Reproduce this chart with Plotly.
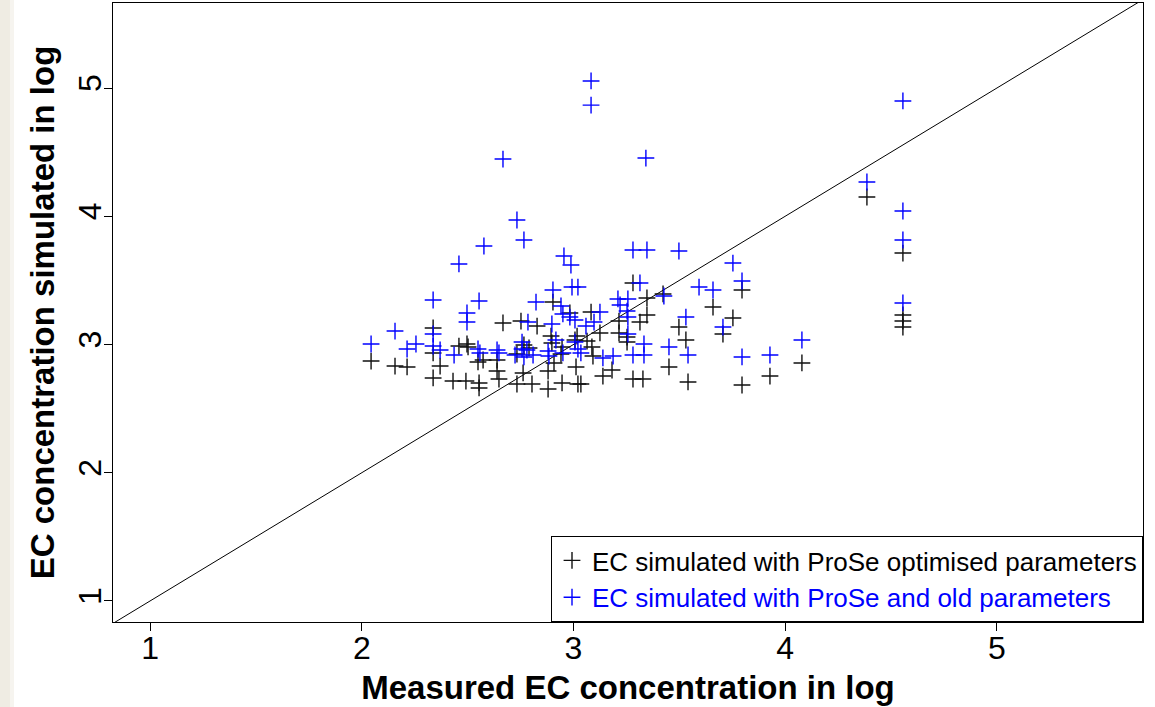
import plotly.graph_objects as go

# ---- data ----
opt_x = [2.044, 2.157, 2.214, 2.337, 2.337, 2.337, 2.370, 2.431, 2.459, 2.497, 2.502, 2.492,
         2.549, 2.573, 2.554, 2.554, 2.639, 2.639, 2.648, 2.667, 2.733, 2.733, 2.804, 2.752,
         2.766, 2.790, 2.762, 2.828, 2.880, 2.880, 2.894, 2.898, 2.903, 2.908, 2.946, 2.941,
         2.946, 2.983, 3.007, 3.012, 3.021, 3.035, 3.017, 3.064, 3.083, 3.087, 3.092, 3.125,
         3.139, 3.182, 3.215, 3.215, 3.253, 3.253, 3.281, 3.281, 3.328, 3.314, 3.347, 3.347,
         3.423, 3.451, 3.498, 3.531, 3.541, 3.659, 3.706, 3.753, 3.796, 3.796, 3.928, 4.079,
         4.386, 4.556, 4.556, 4.556, 4.556]
opt_y = [2.871, 2.832, 2.825, 3.129, 2.934, 2.739, 2.832, 2.715, 2.988, 3.004, 2.981, 2.715,
         2.864, 2.879, 2.700, 2.661, 2.879, 2.793, 2.731, 3.168, 2.926, 2.692, 2.692, 3.183,
         2.996, 2.973, 2.778, 3.144, 2.793, 2.653, 3.066, 3.012, 3.331, 2.856, 2.981, 2.926,
         2.700, 3.246, 3.035, 2.825, 2.692, 2.692, 3.066, 3.027, 3.253, 2.981, 2.910, 3.090,
         2.754, 2.801, 3.183, 3.090, 3.058, 3.019, 3.480, 2.731, 2.731, 3.175, 3.363, 3.230,
         3.394, 2.825, 3.136, 3.035, 2.708, 3.292, 3.082, 3.207, 3.425, 2.684, 2.754, 2.856,
         4.150, 3.713, 3.230, 3.183, 3.136]

old_x = [2.044, 2.157, 2.214, 2.256, 2.337, 2.337, 2.337, 2.370, 2.436, 2.459, 2.497, 2.497,
         2.549, 2.554, 2.558, 2.577, 2.639, 2.648, 2.667, 2.733, 2.766, 2.724, 2.757, 2.757,
         2.780, 2.766, 2.809, 2.785, 2.823, 2.880, 2.884, 2.898, 2.903, 2.917, 2.941, 2.950,
         2.983, 3.007, 2.955, 2.988, 2.950, 2.993, 3.021, 3.007, 3.021, 3.035, 3.059, 3.097,
         3.125, 3.083, 3.083, 3.139, 3.187, 3.210, 3.257, 3.220, 3.253, 3.257, 3.257, 3.281,
         3.347, 3.498, 3.281, 3.333, 3.333, 3.314, 3.342, 3.427, 3.451, 3.531, 3.541, 3.593,
         3.659, 3.706, 3.753, 3.796, 3.796, 3.928, 4.079, 4.386, 4.556, 4.556, 4.556, 4.556]
old_y = [3.004, 3.105, 2.965, 3.004, 3.347, 3.082, 2.988, 2.957, 2.918, 3.628, 3.246, 3.175,
         2.965, 3.339, 2.934, 3.768, 2.957, 2.934, 4.446, 3.971, 3.815, 2.918, 3.019, 2.965,
         2.957, 2.903, 2.918, 3.175, 3.331, 2.949, 2.910, 3.160, 3.425, 3.035, 3.300, 3.238,
         3.214, 3.191, 3.690, 3.620, 2.934, 3.448, 3.448, 3.019, 2.965, 2.934, 3.144, 3.175,
         3.253, 5.055, 4.867, 2.895, 2.910, 3.355, 3.355, 3.308, 3.261, 3.214, 3.082, 3.737,
         3.737, 3.729, 2.918, 2.918, 3.004, 3.480, 4.454, 3.378, 2.981, 3.214, 2.918, 3.448,
         3.425, 3.136, 3.635, 3.495, 2.903, 2.918, 3.035, 4.267, 4.899, 4.041, 3.815, 3.324]

tick_vals = [1, 2, 3, 4, 5]
tick_text = ["1", "2", "3", "4", "5"]
x_range = [0.825, 5.69]
y_range = [0.836, 5.663]
diag = [0, 6]

name_opt = "EC simulated with ProSe optimised parameters"
name_old = "EC simulated with ProSe and old parameters"
x_title = "Measured EC concentration in log"
y_title = "EC concentration simulated in log"

FONT = "Liberation Sans, Arial, sans-serif"

fig = go.Figure()

fig.add_trace(go.Scatter(x=diag, y=diag, mode="lines",
                         line=dict(color="black", width=1),
                         showlegend=False, hoverinfo="skip"))

fig.add_trace(go.Scatter(x=opt_x, y=opt_y, mode="markers", name=name_opt,
                         marker=dict(symbol="cross-thin", size=12,
                                     line=dict(color="#111111", width=1.4))))

fig.add_trace(go.Scatter(x=old_x, y=old_y, mode="markers",
                         name='<span style="color:#0000ff">' + name_old + '</span>',
                         marker=dict(symbol="cross-thin", size=12,
                                     line=dict(color="#0000ff", width=1.4))))

axis_common = dict(
    tickvals=tick_vals, ticktext=tick_text,
    ticks="outside", ticklen=8, tickwidth=1, tickcolor="black",
    showline=True, linecolor="black", linewidth=1, mirror=True,
    showgrid=False, zeroline=False,
    tickfont=dict(family=FONT, size=32, color="black"),
)

fig.update_layout(
    width=1155, height=707,
    margin=dict(l=113, r=12, t=3, b=85),
    paper_bgcolor="white", plot_bgcolor="white",
    font=dict(family=FONT, color="black"),
    xaxis=dict(range=x_range, ticklabelstandoff=-10, **axis_common,
               title=dict(text="<b>" + x_title + "</b>",
                          font=dict(family=FONT, size=33, color="black"),
                          standoff=10)),
    yaxis=dict(range=y_range, tickangle=-90, ticklabelstandoff=-10, **axis_common,
               title=dict(text="<b>" + y_title + "</b>",
                          font=dict(family=FONT, size=33, color="black"),
                          standoff=7)),
    legend=dict(x=1, y=0, xanchor="right", yanchor="bottom",
                bgcolor="white", bordercolor="black", borderwidth=1,
                font=dict(family=FONT, size=26, color="black"),
                itemwidth=30),
    shapes=[
        dict(type="rect", xref="paper", yref="paper", x0=-0.1097, x1=-0.1000,
             y0=-0.2, y1=1.01, fillcolor="#efece3", line=dict(width=0), layer="below"),
        dict(type="rect", xref="paper", yref="paper", x0=-0.1000, x1=-0.0961,
             y0=-0.2, y1=1.01, fillcolor="#f6f4ef", line=dict(width=0), layer="below"),
    ],
)

fig.write_html("out.html")
